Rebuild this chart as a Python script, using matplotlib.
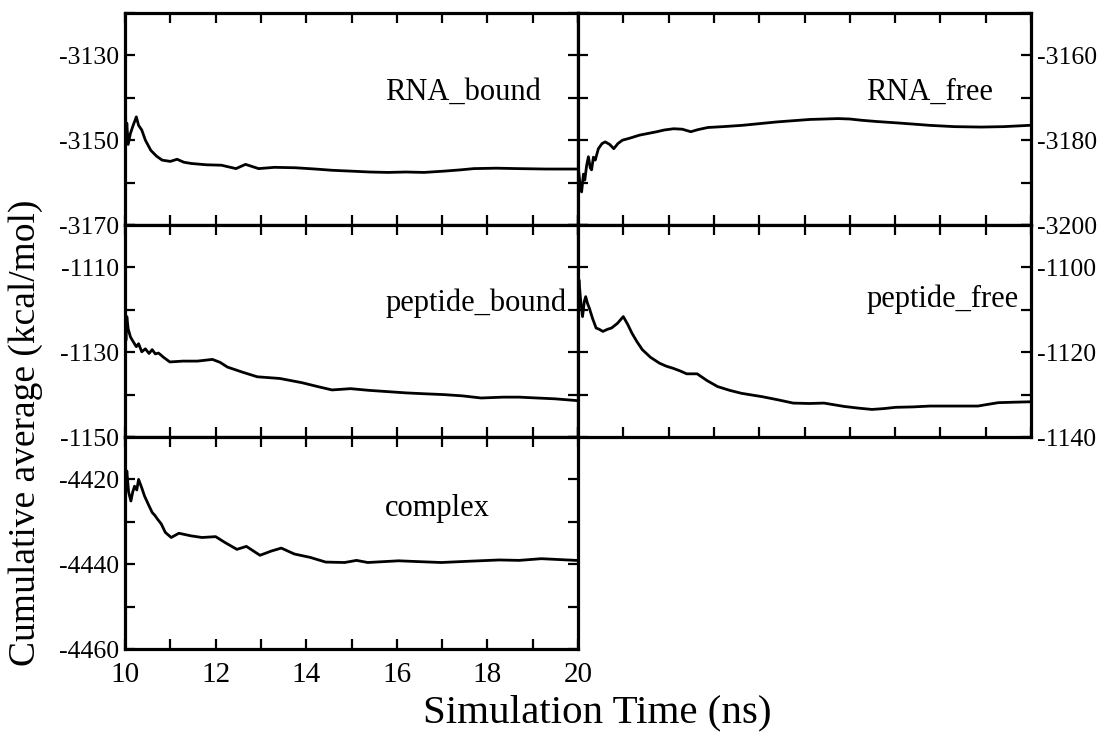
import matplotlib
matplotlib.use("Agg")
import matplotlib.pyplot as plt
from matplotlib.ticker import MultipleLocator, NullFormatter, FixedLocator

plt.rcParams['font.family'] = ['Liberation Serif', 'DejaVu Serif']
plt.rcParams['axes.unicode_minus'] = False

# ---- data ----
rna_bound_t = [10.0, 10.01, 10.02, 10.04, 10.07, 10.12, 10.18, 10.25, 10.3, 10.37, 10.45, 10.57, 10.7, 10.82,
               11.0, 11.15, 11.3, 11.47, 11.8, 12.13, 12.45, 12.66, 12.95, 13.3, 13.76, 14.2, 14.58, 15.0,
               15.4, 15.8, 16.2, 16.6, 17.04, 17.4, 17.7, 18.2, 18.67, 19.3, 20.0]
rna_bound_v = [-3151, -3141, -3150, -3146, -3151, -3148.4, -3146.5, -3144.5, -3146.5, -3147.6, -3150.0, -3152.4,
               -3153.8, -3154.7, -3155.0, -3154.5, -3155.2, -3155.5, -3155.8, -3155.9, -3156.7, -3155.7, -3156.7,
               -3156.4, -3156.5, -3156.8, -3157.1, -3157.3, -3157.5, -3157.6, -3157.5, -3157.6, -3157.3, -3157.0,
               -3156.7, -3156.6, -3156.7, -3156.8, -3156.8]

rna_free_t = [10.0, 10.02, 10.05, 10.08, 10.12, 10.15, 10.19, 10.23, 10.27, 10.3, 10.34, 10.38, 10.45, 10.53,
              10.6, 10.7, 10.79, 10.88, 10.98, 11.15, 11.36, 11.55, 11.74, 11.9, 12.11, 12.3, 12.49, 12.65,
              12.87, 13.2, 13.62, 14.0, 14.38, 14.75, 15.13, 15.45, 15.74, 16.0, 16.26, 16.6, 17.02, 17.4,
              17.77, 18.3, 18.9, 19.4, 19.96]
rna_free_v = [-3186, -3187.8, -3191, -3192.2, -3188, -3189.4, -3186, -3183.9, -3186.5, -3187, -3184, -3184.7,
              -3182, -3180.8, -3180.4, -3181.0, -3182, -3180.8, -3180, -3179.5, -3178.8, -3178.4, -3178,
              -3177.6, -3177.3, -3177.4, -3178, -3177.5, -3177, -3176.8, -3176.5, -3176.1, -3175.7, -3175.4,
              -3175.1, -3175.0, -3174.9, -3175.0, -3175.3, -3175.6, -3175.9, -3176.2, -3176.5, -3176.8,
              -3176.9, -3176.8, -3176.5]

pep_bound_t = [10.0, 10.01, 10.02, 10.04, 10.07, 10.12, 10.18, 10.25, 10.3, 10.37, 10.45, 10.53, 10.6, 10.67,
               10.74, 10.85, 10.99, 11.28, 11.6, 11.93, 12.1, 12.26, 12.59, 12.92, 13.42, 13.91, 14.25, 14.57,
               14.98, 15.39, 15.8, 16.21, 16.6, 17.04, 17.45, 17.86, 18.35, 18.7, 19.09, 19.5, 19.96]
pep_bound_v = [-1127, -1124, -1127.2, -1121.6, -1124.5, -1126.4, -1127.5, -1128.7, -1128.0, -1129.9, -1129.2,
               -1130.3, -1129.4, -1130.4, -1130.2, -1131.2, -1132.3, -1132.1, -1132.1, -1131.7, -1132.4,
               -1133.5, -1134.7, -1135.8, -1136.2, -1137.2, -1138.1, -1138.9, -1138.6, -1139.0, -1139.3,
               -1139.6, -1139.8, -1140.0, -1140.3, -1140.8, -1140.6, -1140.6, -1140.8, -1141.0, -1141.4]

pep_free_t = [10.0, 10.02, 10.06, 10.1, 10.14, 10.17, 10.21, 10.25, 10.32, 10.4, 10.47, 10.55, 10.65, 10.74,
              10.87, 11.0, 11.1, 11.19, 11.3, 11.42, 11.6, 11.8, 11.95, 12.1, 12.25, 12.4, 12.63, 12.85,
              13.08, 13.35, 13.61, 14.07, 14.4, 14.75, 15.1, 15.43, 15.88, 16.2, 16.49, 16.75, 17.01, 17.4,
              17.77, 18.3, 18.83, 19.05, 19.28, 19.6, 19.96]
pep_free_v = [-1108, -1102.9, -1108, -1111.6, -1108, -1106.9, -1108.5, -1109.6, -1112, -1114.3, -1114.6,
              -1115.1, -1114.6, -1114.3, -1113.2, -1111.6, -1113.5, -1115.5, -1117.5, -1119.4, -1121.2,
              -1122.6, -1123.3, -1123.8, -1124.4, -1125.1, -1125.1, -1126.7, -1128.1, -1129.0, -1129.7,
              -1130.5, -1131.2, -1132.0, -1132.1, -1132.0, -1132.8, -1133.2, -1133.5, -1133.3, -1133.0,
              -1132.9, -1132.7, -1132.7, -1132.7, -1132.3, -1131.9, -1131.8, -1131.7]

complex_t = [10.0, 10.02, 10.04, 10.08, 10.13, 10.17, 10.21, 10.26, 10.3, 10.37, 10.43, 10.52, 10.6, 10.66,
             10.72, 10.8, 10.89, 11.02, 11.19, 11.45, 11.7, 12.0, 12.21, 12.47, 12.68, 12.98, 13.23, 13.45,
             13.74, 14.09, 14.43, 14.85, 15.11, 15.36, 15.7, 16.04, 16.5, 16.98, 17.6, 18.26, 18.7, 19.19, 19.96]
complex_v = [-4423, -4422.4, -4418, -4423, -4425.1, -4423, -4421.6, -4422.5, -4420, -4422, -4423.9, -4426,
             -4427.8, -4428.5, -4429.4, -4430.5, -4432.5, -4433.7, -4432.7, -4433.3, -4433.7, -4433.5,
             -4434.9, -4436.5, -4435.8, -4437.9, -4436.9, -4436.2, -4437.6, -4438.4, -4439.5, -4439.6,
             -4439.1, -4439.6, -4439.4, -4439.2, -4439.4, -4439.6, -4439.3, -4439.0, -4439.1, -4438.7, -4439.1]

panels = [
    # (row, col, t, v, ylim, major ticks, label)
    (0, 0, rna_bound_t, rna_bound_v, (-3170, -3120), [-3170, -3150, -3130], "RNA_bound"),
    (0, 1, rna_free_t, rna_free_v, (-3200, -3150), [-3200, -3180, -3160], "RNA_free"),
    (1, 0, pep_bound_t, pep_bound_v, (-1150, -1100), [-1150, -1130, -1110], "peptide_bound"),
    (1, 1, pep_free_t, pep_free_v, (-1140, -1090), [-1140, -1120, -1100], "peptide_free"),
    (2, 0, complex_t, complex_v, (-4460, -4410), [-4460, -4440, -4420], "complex"),
]
label_pos = {"RNA_bound": (0.574, 0.625), "RNA_free": (0.636, 0.627),
             "peptide_bound": (0.574, 0.63), "peptide_free": (0.636, 0.65),
             "complex": (0.574, 0.665)}

W, H = 1104, 742
fig = plt.figure(figsize=(W / 100, H / 100), dpi=100)

lefts = [125 / W, 578 / W]
width = 453 / W
height = 212 / H
bottoms = [1 - 225 / H, 1 - 437 / H, 1 - 649 / H]

for row, col, t, v, ylim, majors, name in panels:
    ax = fig.add_axes([lefts[col], bottoms[row], width, height])
    ax.plot(t, v, color='black', lw=2.0)
    ax.set_xlim(10, 20)
    ax.set_ylim(*ylim)
    ax.xaxis.set_major_locator(MultipleLocator(2))
    ax.xaxis.set_minor_locator(MultipleLocator(1))
    ax.yaxis.set_major_locator(FixedLocator(majors))
    ax.yaxis.set_minor_locator(MultipleLocator(10))
    for s in ax.spines.values():
        s.set_linewidth(2.3)
    ax.tick_params(which='both', direction='in', length=7, width=1.6,
                   top=True, bottom=True, left=True, right=True)
    ax.tick_params(axis='y', pad=4, labelsize=18.5)
    ax.tick_params(axis='x', pad=9, labelsize=21)
    if col == 1:
        ax.tick_params(labelleft=False, labelright=True)
    if row != 2:
        ax.tick_params(labelbottom=False)
    ax.xaxis.set_minor_formatter(NullFormatter())
    ax.text(label_pos[name][0], label_pos[name][1], name, transform=ax.transAxes,
            fontsize=22, ha='left', va='center')

fig.text(26 / W, 1 - 433 / H, "Cumulative average (kcal/mol)", rotation=90,
         fontsize=27, ha='center', va='center')
fig.text(597 / W, 1 - 713 / H, "Simulation Time (ns)", fontsize=29.5, ha='center', va='center')

fig.savefig("out.png", dpi=100)
